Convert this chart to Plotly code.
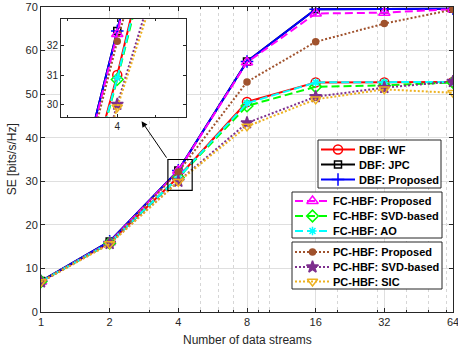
import math
import plotly.graph_objects as go

# ---------------- data ----------------
streams = [1, 2, 4, 8, 16, 32, 64]
x_tick_labels = ["1", "2", "4", "8", "16", "32", "64"]
y_tick_values = [0, 10, 20, 30, 40, 50, 60, 70]
inset_y_ticks = [30, 31, 32]

series_names = [
    "DBF: WF", "DBF: JPC", "DBF: Proposed",
    "FC-HBF: Proposed", "FC-HBF: SVD-based", "FC-HBF: AO",
    "PC-HBF: Proposed", "PC-HBF: SVD-based", "PC-HBF: SIC",
]
dbf_wf = [7.0, 15.9, 31.0, 48.2, 52.7, 52.7, 52.8]
dbf_jpc = [7.1, 16.2, 32.5, 57.5, 69.5, 69.5, 69.6]
dbf_proposed = [7.1, 16.2, 32.5, 57.5, 69.5, 69.5, 69.6]
fc_proposed = [7.0, 16.0, 32.4, 57.3, 68.5, 68.7, 69.5]
fc_svd = [7.0, 15.8, 30.85, 47.3, 51.7, 52.0, 52.7]
fc_ao = [7.0, 15.9, 30.9, 47.9, 52.7, 52.7, 52.8]
pc_proposed = [7.0, 15.9, 32.15, 52.8, 62.0, 66.2, 69.4]
pc_svd = [6.9, 15.7, 30.0, 43.4, 49.4, 51.5, 52.9]
pc_sic = [6.9, 15.6, 29.9, 42.6, 48.8, 51.1, 50.3]

series_values = [dbf_wf, dbf_jpc, dbf_proposed, fc_proposed, fc_svd, fc_ao,
                 pc_proposed, pc_svd, pc_sic]

# ---------------- styles ----------------
FONT = "Liberation Sans, Arial, sans-serif"
TXT = "#262626"
DASH = "8px,4px"
DOT = "2px,2px"
styles = [
    dict(color="#ff0000", dash="solid", symbol="circle-open", size=9),
    dict(color="#000000", dash="solid", symbol="square-open", size=7),
    dict(color="#0000ff", dash="solid", symbol="cross-thin-open", size=9),
    dict(color="#ff00ff", dash=DASH, symbol="triangle-up-open", size=10),
    dict(color="#00ff00", dash=DASH, symbol="diamond-open", size=9),
    dict(color="#00ffff", dash=DASH, symbol="asterisk-open", size=7),
    dict(color="#a0522d", dash=DOT, symbol="circle", size=6),
    dict(color="#7e2f8e", dash=DOT, symbol="star", size=9),
    dict(color="#edb120", dash=DOT, symbol="triangle-down-open", size=9),
]

fig = go.Figure()

def add_series(xaxis, yaxis):
    for name, vals, st in zip(series_names, series_values, styles):
        fig.add_trace(go.Scatter(
            x=streams, y=vals, name=name, mode="lines+markers",
            xaxis=xaxis, yaxis=yaxis, showlegend=False,
            line=dict(color=st["color"], width=2, dash=st["dash"]),
            marker=dict(symbol=st["symbol"], size=st["size"], color=st["color"],
                        line=dict(color=st["color"], width=1.5)),
        ))

add_series("x", "y")

# ---------------- custom legend (overlay axes in pixel units) ----------------
legend_groups = [
    dict(box=(318, 441, 140, 188), rows=[149.5, 164.5, 179.5], sample=(321, 355), text_x=357, idx=[0, 1, 2]),
    dict(box=(292, 442, 192, 238), rows=[201, 216, 231], sample=(295, 330), text_x=331, idx=[3, 4, 5]),
    dict(box=(292, 442, 242, 289), rows=[252, 267, 281.5], sample=(295, 330), text_x=331, idx=[6, 7, 8]),
]
shapes = []
annotations = []
for g in legend_groups:
    x0, x1, y0, y1 = g["box"]
    fig.add_trace(go.Scatter(x=[x0, x1, x1, x0, x0], y=[y0, y0, y1, y1, y0], xaxis="x3", yaxis="y3",
                             mode="lines", fill="toself", fillcolor="white",
                             line=dict(color=TXT, width=1), showlegend=False, hoverinfo="skip"))
    for r, i in zip(g["rows"], g["idx"]):
        st = styles[i]
        sx0, sx1 = g["sample"]
        fig.add_trace(go.Scatter(x=[sx0, sx1], y=[r, r], mode="lines", xaxis="x3", yaxis="y3",
                                 showlegend=False, hoverinfo="skip",
                                 line=dict(color=st["color"], width=2, dash=st["dash"])))
        fig.add_trace(go.Scatter(x=[(sx0 + sx1) / 2], y=[r], mode="markers", xaxis="x3", yaxis="y3",
                                 showlegend=False, hoverinfo="skip",
                                 marker=dict(symbol=st["symbol"], size=st["size"], color=st["color"],
                                             line=dict(color=st["color"], width=1.5))))
        annotations.append(dict(xref="x3", yref="y3", x=g["text_x"], y=r, text="<b>%s</b>" % series_names[i],
                                showarrow=False, xanchor="left", yanchor="middle",
                                font=dict(family=FONT, size=11, color="black")))

# inset: white background patch (first trace of the inset, clipped to it)
fig.add_trace(go.Scatter(x=[1, 10, 10, 1, 1], y=[0, 0, 100, 100, 0], xaxis="x2", yaxis="y2",
                         mode="lines", fill="toself", fillcolor="white",
                         line=dict(width=0, color="white"), showlegend=False, hoverinfo="skip"))
add_series("x2", "y2")

# axis titles
annotations.append(dict(xref="paper", yref="paper", x=0.5, y=-0.093, yanchor="middle",
                        text="Number of data streams", showarrow=False,
                        font=dict(family=FONT, size=12, color=TXT)))
annotations.append(dict(xref="paper", yref="paper", x=-0.071, y=0.5, xanchor="center", yanchor="middle",
                        text="SE [bits/s/Hz]", showarrow=False, textangle=-90,
                        font=dict(family=FONT, size=12, color=TXT)))

# zoom rectangle on the main axes
shapes.append(dict(type="rect", xref="x", yref="y", x0=3.6, x1=4.6, y0=27.9, y1=35.0,
                   fillcolor="rgba(0,0,0,0)", line=dict(color="black", width=1.2), layer="above"))
# arrow to inset
annotations.append(dict(xref="x", yref="y", x=math.log10(2.76), y=43.8, ax=26, ay=38,
                        text="", showarrow=True, arrowhead=2, arrowsize=1.2, arrowwidth=1,
                        arrowcolor="black"))

grid_major = "#dfdfdf"
grid_minor = "#d6d6d6"
minor_x = [3, 5, 6, 7, 9, 10, 20, 30, 40, 50, 60]

fig.update_layout(
    width=458, height=351,
    margin=dict(l=41, r=5, t=7, b=39, autoexpand=False),
    paper_bgcolor="white", plot_bgcolor="white",
    font=dict(family=FONT, size=11, color=TXT),
    shapes=shapes, annotations=annotations,
    showlegend=False,
    xaxis=dict(type="log", range=[-1e-6, math.log10(64) + 1e-6], domain=[0, 1], anchor="y",
               tickmode="array", tickvals=streams, ticktext=x_tick_labels,
               ticks="inside", ticklen=4, tickcolor=TXT, tickwidth=1,
               showline=True, linecolor=TXT, linewidth=1, mirror="allticks",
               showgrid=True, gridcolor=grid_major, gridwidth=1, zeroline=False,
               minor=dict(tickmode="array", tickvals=minor_x, ticks="inside", ticklen=2,
                          tickcolor=TXT, showgrid=True, gridcolor=grid_minor, griddash="dot", gridwidth=1),
               tickfont=dict(size=11, color=TXT), automargin=False, ticklabeloverflow="allow"),
    yaxis=dict(range=[0, 70], domain=[0, 1], anchor="x",
               tickmode="array", tickvals=y_tick_values,
               ticks="inside", ticklen=4, tickcolor=TXT, tickwidth=1,
               showline=True, linecolor=TXT, linewidth=1, mirror="allticks",
               showgrid=True, gridcolor=grid_major, gridwidth=1, zeroline=False,
               tickfont=dict(size=11, color=TXT), automargin=False, ticklabeloverflow="allow"),
    xaxis2=dict(type="log", range=[math.log10(2.89), math.log10(5.95)],
                domain=[0.0485, 0.352], anchor="y2",
                tickmode="array", tickvals=[4], ticktext=["4"],
                ticks="inside", ticklen=3, tickcolor=TXT,
                showline=True, linecolor=TXT, linewidth=1, mirror="allticks",
                showgrid=True, gridcolor=grid_major, zeroline=False,
                minor=dict(tickmode="array", tickvals=[3, 5], ticks="inside", ticklen=2,
                           tickcolor=TXT, showgrid=True, gridcolor=grid_minor, griddash="dot"),
                tickfont=dict(size=10, color=TXT), automargin=False),
    yaxis2=dict(range=[29.58, 32.91], domain=[0.6403, 0.9607], anchor="x2",
                tickmode="array", tickvals=inset_y_ticks,
                ticks="inside", ticklen=3, tickcolor=TXT,
                showline=True, linecolor=TXT, linewidth=1, mirror="allticks",
                showgrid=True, gridcolor=grid_major, zeroline=False,
                tickfont=dict(size=10, color=TXT), automargin=False),
    xaxis3=dict(range=[41, 453], overlaying="x", anchor="y3", visible=False, fixedrange=True,
                automargin=False),
    yaxis3=dict(range=[312, 7], overlaying="y", anchor="x3", visible=False, fixedrange=True,
                automargin=False),
)

fig.write_html("out.html", config={"displayModeBar": False},
               post_script="document.body.style.margin='0px'; document.body.style.padding='0px';")
